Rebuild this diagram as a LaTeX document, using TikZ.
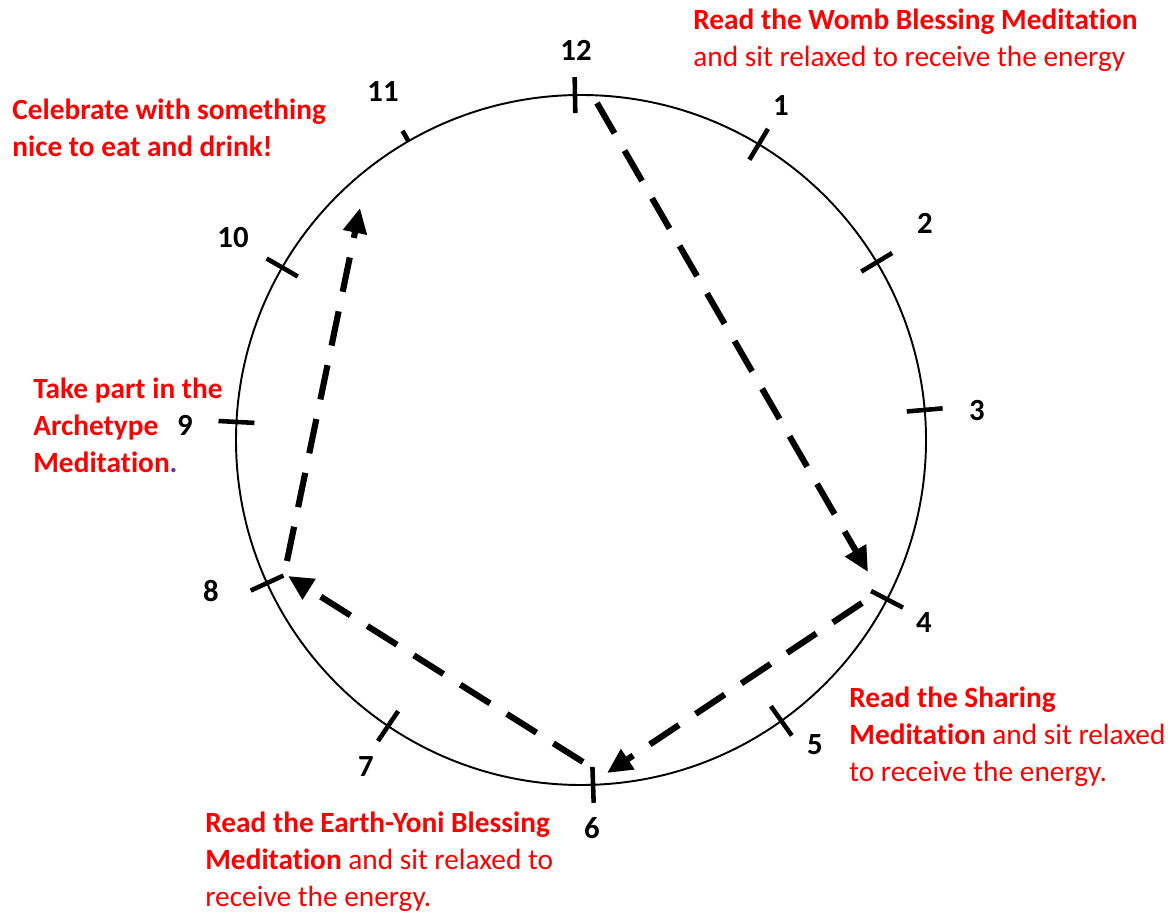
\documentclass[tikz,border=0pt]{standalone}
\usepackage{fontspec}
\setmainfont{Carlito}[Ligatures=NoCommon]
\usetikzlibrary{arrows.meta,calc}
\definecolor{note}{HTML}{FF0000}
\definecolor{stop}{HTML}{7030A0}
\tikzset{
  every picture/.style={line join=round},
  hour/.style={font=\fontsize{17.5}{21}\selectfont\bfseries, inner sep=0pt},
  notetext/.style={text=note, font=\fontsize{16.7}{20.8}\selectfont, align=left,
    anchor=north west, inner sep=0pt},
  tickmark/.style={line width=2.6pt},
  route/.style={line width=3.5pt, dash pattern=on 0.7cm off 0.4cm,
    -{Triangle[length=0.5cm,width=0.46cm]}},
}
\begin{document}
\begin{tikzpicture}[x=0.02cm,y=0.02cm]
\useasboundingbox (0,0) rectangle (1176,913);
\coordinate (c) at (581,473);
% the clock face
\draw[line width=1.1pt] (c) circle[radius=345];
\foreach \ang in {91,59,31,5,-27.5,-54.5,-88,-124,-155.5,177,150}
  \draw[tickmark] ($(c)+(\ang:327)$) -- ($(c)+(\ang:363)$);
\draw[tickmark] ($(c)+(120:345)$) -- ($(c)+(120:357)$);
% hours
\node[hour] (h12) at (576,863) {12};
\node[hour] (h1) at (781,807) {1};
\node[hour] (h2) at (925,690) {2};
\node[hour] (h3) at (977,502) {3};
\node[hour] (h4) at (924,290) {4};
\node[hour] (h5) at (815,168) {5};
\node[hour] (h6) at (592,85) {6};
\node[hour] (h7) at (366,146) {7};
\node[hour] (h8) at (211,322) {8};
\node[hour] (h9) at (185,488) {9};
\node[hour] (h10) at (233,675) {10};
\node[hour] (h11) at (383,821) {11};
% what to do at each stop
\node[notetext] (womb) at (693,904)
  {\textbf{Read the Womb Blessing Meditation}\\and sit relaxed to receive the energy};
\node[notetext] (party) at (12,814)
  {\textbf{Celebrate with something}\\\textbf{nice to eat and drink!}};
\node[notetext] (arche) at (33,535)
  {\textbf{Take part in the}\\\textbf{Archetype}\\\textbf{Meditation\textcolor{stop}{.}}};
\node[notetext] (share) at (849,226)
  {\textbf{Read the Sharing}\\\textbf{Meditation} and sit relaxed\\to receive the energy.};
\node[notetext] (earth) at (205,101)
  {\textbf{Read the Earth-Yoni Blessing}\\\textbf{Meditation} and sit relaxed to\\receive the energy.};
% the route round the circle
\coordinate (s12) at (597,810);
\coordinate (e4) at (868,341);
\coordinate (s4) at (862,310);
\coordinate (e6) at (607,140);
\coordinate (s6) at (583,151);
\coordinate (e8) at (288,337);
\coordinate (s8) at (287,352);
\coordinate (e11) at (360,705);
\draw[route] (s12) -- (e4);
\draw[route] (s4) -- (e6);
\draw[route] (s6) -- (e8);
\draw[route] (s8) -- (e11);
\end{tikzpicture}
\end{document}
